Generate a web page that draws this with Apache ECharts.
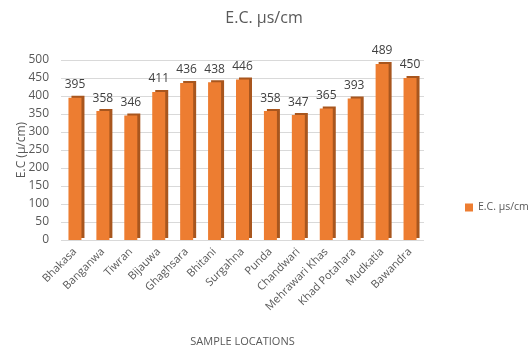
<!DOCTYPE html>
<html><head><meta charset="utf-8">
<script src="https://cdn.jsdelivr.net/npm/echarts@6/dist/echarts.min.js"></script>
<style>html,body{margin:0;padding:0;background:#fff}#c{width:528px;height:349px}</style>
</head><body><div id="c"></div>
<script>
const categories = ['Bhakasa','Banganwa','Tiwran','Bijauwa','Ghaghsara','Bhitani','Surgahna','Punda','Chandwari','Mehrawari Khas','Khad Potahara','Mudkatia','Bawandra'];
const ecValues = [395,358,346,411,436,438,446,358,347,365,393,489,450];
const yTicks = [0,50,100,150,200,250,300,350,400,450,500];

const chart = echarts.init(document.getElementById('c'));
chart.setOption({
  animation:false,
  textStyle:{fontFamily:'Open Sans, Noto Sans, sans-serif'},
  title:{text:'E.C. µs/cm', left:'center', top:5, textStyle:{fontSize:16, fontWeight:'normal', color:'#595959'}},
  legend:{data:['E.C. µs/cm'], orient:'vertical', left:460, top:197, itemWidth:8, itemHeight:8, itemGap:4, icon:'rect',
    textStyle:{fontSize:10.5, color:'#595959'}},
  grid:{left:61, right:104, top:60, bottom:109, outerBoundsMode:'none', containLabel:false},
  xAxis:{type:'category', data:categories, name:'SAMPLE LOCATIONS', nameLocation:'middle', nameGap:96,
    nameMoveOverlap:false,
    nameTextStyle:{fontSize:11, color:'#595959'},
    axisLine:{show:false}, axisTick:{show:false},
    axisLabel:{rotate:45, fontSize:11, color:'#595959', margin:10, interval:0}},
  yAxis:{type:'value', min:yTicks[0], max:yTicks[yTicks.length-1], interval:50,
    name:'E.C (µ/cm)', nameLocation:'middle', nameGap:33, nameMoveOverlap:false,
    nameTextStyle:{fontSize:12, color:'#595959'},
    axisLine:{show:false}, axisTick:{show:false},
    axisLabel:{fontSize:12, color:'#595959', margin:12},
    splitLine:{lineStyle:{color:'#d9d9d9'}}},
  series:[{name:'E.C. µs/cm', type:'bar', data:ecValues, barWidth:13,
    itemStyle:{color:'#ED7D31', shadowColor:'#A8561E', shadowOffsetX:3, shadowOffsetY:-2, shadowBlur:0},
    label:{show:true, position:'top', distance:7, fontSize:12, color:'#404040'}}]
});
</script></body></html>
